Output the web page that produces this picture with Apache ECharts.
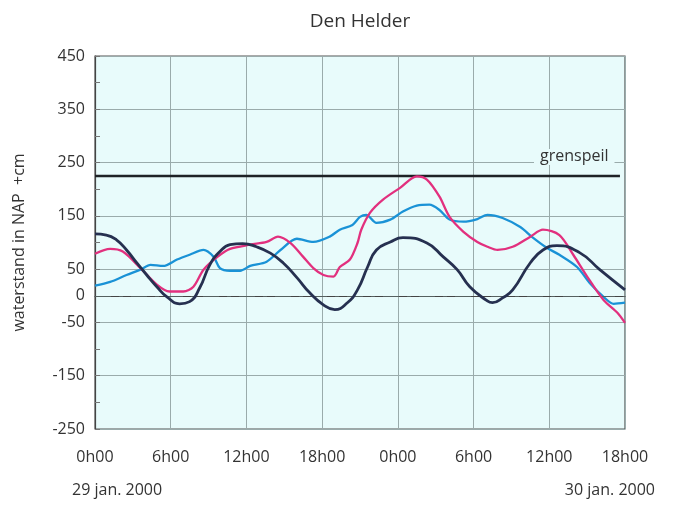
<!DOCTYPE html>
<html>
<head>
<meta charset="utf-8">
<script src="https://cdn.jsdelivr.net/npm/echarts@6/dist/echarts.min.js"></script>
<style>html,body{margin:0;padding:0;background:#fff;}#c{width:675px;height:506px;}</style>
</head>
<body>
<div id="c"></div>
<script>
// hours since 29 jan 2000 0h00, water level in cm NAP
var navyHours = [0,0.9,1.7,2.5,3.3,4.1,4.9,5.7,6.7,7.5,8.3,9.1,9.9,10.7,11.7,12.8,13.9,14.9,16,17,18.1,19,20,20.8,21.6,22.3,23.4,24.4,26.3,27.6,28.7,29.7,31,31.5,32.3,33.1,34.5,35.5,36.6,38.4,40,42];
var navyValues = [116,114,105,86,62,39,17,-2,-15,-11,15,58,83,96,98,92,80,62,34,6,-17,-26,-13,11,54,86,101,109,99,73,49,17,-8,-13,-4,11,62,86,94,81,49,11];

var pinkHours = [0,1.2,2.2,3.6,4.9,5.9,7,7.8,8.6,9.7,10.7,12.3,13.6,14.5,15.5,16.5,17.3,18.1,18.9,19.4,20.2,20.8,21.1,21.8,22.8,24.2,25.5,26.3,27.3,28.1,29.2,30.3,31.1,31.9,33.1,34.5,35.5,36.8,37.9,39,40.3,41.4,42];
var pinkValues = [79,88,83,52,21,8,8,17,49,73,88,96,101,111,99,73,52,39,36,54,68,99,124,156,180,203,224,218,186,148,120,101,92,86,92,111,124,114,77,36,-8,-32,-51];

var blueHours = [0,1.2,2.5,3.6,4.4,5.4,6.5,7.5,8.6,9.4,9.9,10.7,11.5,12.3,13.6,14.7,16,17.3,18.6,19.4,20.4,21,21.5,22.3,23.4,24.4,25.5,26.5,27.3,28.1,29.2,30.3,31.1,32.3,33.7,34.7,35.8,36.8,38.2,39.2,40.3,41.1,42];
var blueValues = [19,26,39,49,58,56,68,77,86,73,52,47,47,56,64,86,107,101,111,124,133,148,152,137,143,158,169,171,161,143,139,144,152,146,129,109,90,77,54,24,-2,-15,-13];

var grenspeilHours = [0,41.6];
var grenspeilValue = 225;

var xTicks = ['0h00','6h00','12h00','18h00','0h00','6h00','12h00','18h00'];
var yLabelValues = [450,350,250,150,50,0,-50,-150,-250];

function pairs(xs, ys){ return xs.map(function(x,i){ return [x, ys[i]]; }); }

var chart = echarts.init(document.getElementById('c'));
var FONT = 'Open Sans';
var option = {
  animation: false,
  backgroundColor: '#ffffff',
  title: {
    text: 'Den Helder', left: 355, top: 7, textAlign: 'center',
    textStyle: {fontFamily: FONT, fontSize: 19, fontWeight: 'normal', color: '#333'}
  },
  grid: {left: 95, right: 50, top: 56, bottom: 77, show: true, backgroundColor: '#e8fbfb', borderColor: '#555', borderWidth: 1.2},
  xAxis: {
    type: 'value', min: 0, max: 42, interval: 6,
    axisLine: {show: true, lineStyle: {color: '#444', width: 1.2}},
    axisTick: {show: false},
    splitLine: {show: true, lineStyle: {color: '#9aabab', width: 1}},
    axisLabel: {
      margin: 20, fontFamily: FONT, fontSize: 16, color: '#333',
      formatter: function(v){ return xTicks[Math.round(v/6)]; }
    }
  },
  yAxis: {
    type: 'value', min: -250, max: 450, interval: 50,
    name: 'waterstand in NAP  +cm', nameLocation: 'middle', nameGap: 68, nameRotate: 90,
    nameTextStyle: {fontFamily: FONT, fontSize: 16, color: '#333'},
    axisLine: {show: true, lineStyle: {color: '#444', width: 1.2}},
    axisTick: {show: true, inside: true, length: 5, lineStyle: {color: '#777'}},
    splitLine: {show: true, lineStyle: {color: ['#9aabab','transparent'], width: 1}},
    axisLabel: {
      margin: 10, fontFamily: FONT, fontSize: 16, color: '#333',
      formatter: function(v){ return yLabelValues.indexOf(v) >= 0 ? String(v) : ''; }
    }
  },
  series: [
    {
      type: 'line', data: pairs(grenspeilHours, [grenspeilValue, grenspeilValue]), symbol: 'none',
      lineStyle: {color: '#1e2226', width: 2.5}, z: 3,
      markLine: {
        silent: true, symbol: 'none',
        lineStyle: {color: '#55605f', width: 1.2, type: [16,8,4,8]},
        label: {show: false},
        data: [{yAxis: 0}]
      }
    },
    {type: 'line', data: pairs(blueHours, blueValues), symbol: 'none', smooth: 0.3, lineStyle: {color: '#1a92d6', width: 2.3}, z: 4},
    {type: 'line', data: pairs(pinkHours, pinkValues), symbol: 'none', smooth: 0.3, lineStyle: {color: '#e2307e', width: 2.3}, z: 5},
    {type: 'line', data: pairs(navyHours, navyValues), symbol: 'none', smooth: 0.5, lineStyle: {color: '#263050', width: 2.8}, z: 6}
  ]
};
chart.setOption(option);

var lbl = chart.convertToPixel({gridIndex: 0}, [37.8, grenspeilValue]);
var leftPx = chart.convertToPixel({gridIndex: 0}, [0, -250]);
var rightPx = chart.convertToPixel({gridIndex: 0}, [42, -250]);
chart.setOption({
  graphic: [
    {type: 'text', left: lbl[0] - 38, top: lbl[1] - 27,
     style: {text: 'grenspeil', font: '16px "Open Sans"', fill: '#333', backgroundColor: '#e8fbfb', padding: [0, 6]}},
    {type: 'text', left: leftPx[0] - 23, top: leftPx[1] + 53,
     style: {text: '29 jan. 2000', font: '16px "Open Sans"', fill: '#333'}},
    {type: 'text', right: 675 - rightPx[0] - 30, top: rightPx[1] + 53,
     style: {text: '30 jan. 2000', font: '16px "Open Sans"', fill: '#333', textAlign: 'right'}}
  ]
});
</script>
</body>
</html>
